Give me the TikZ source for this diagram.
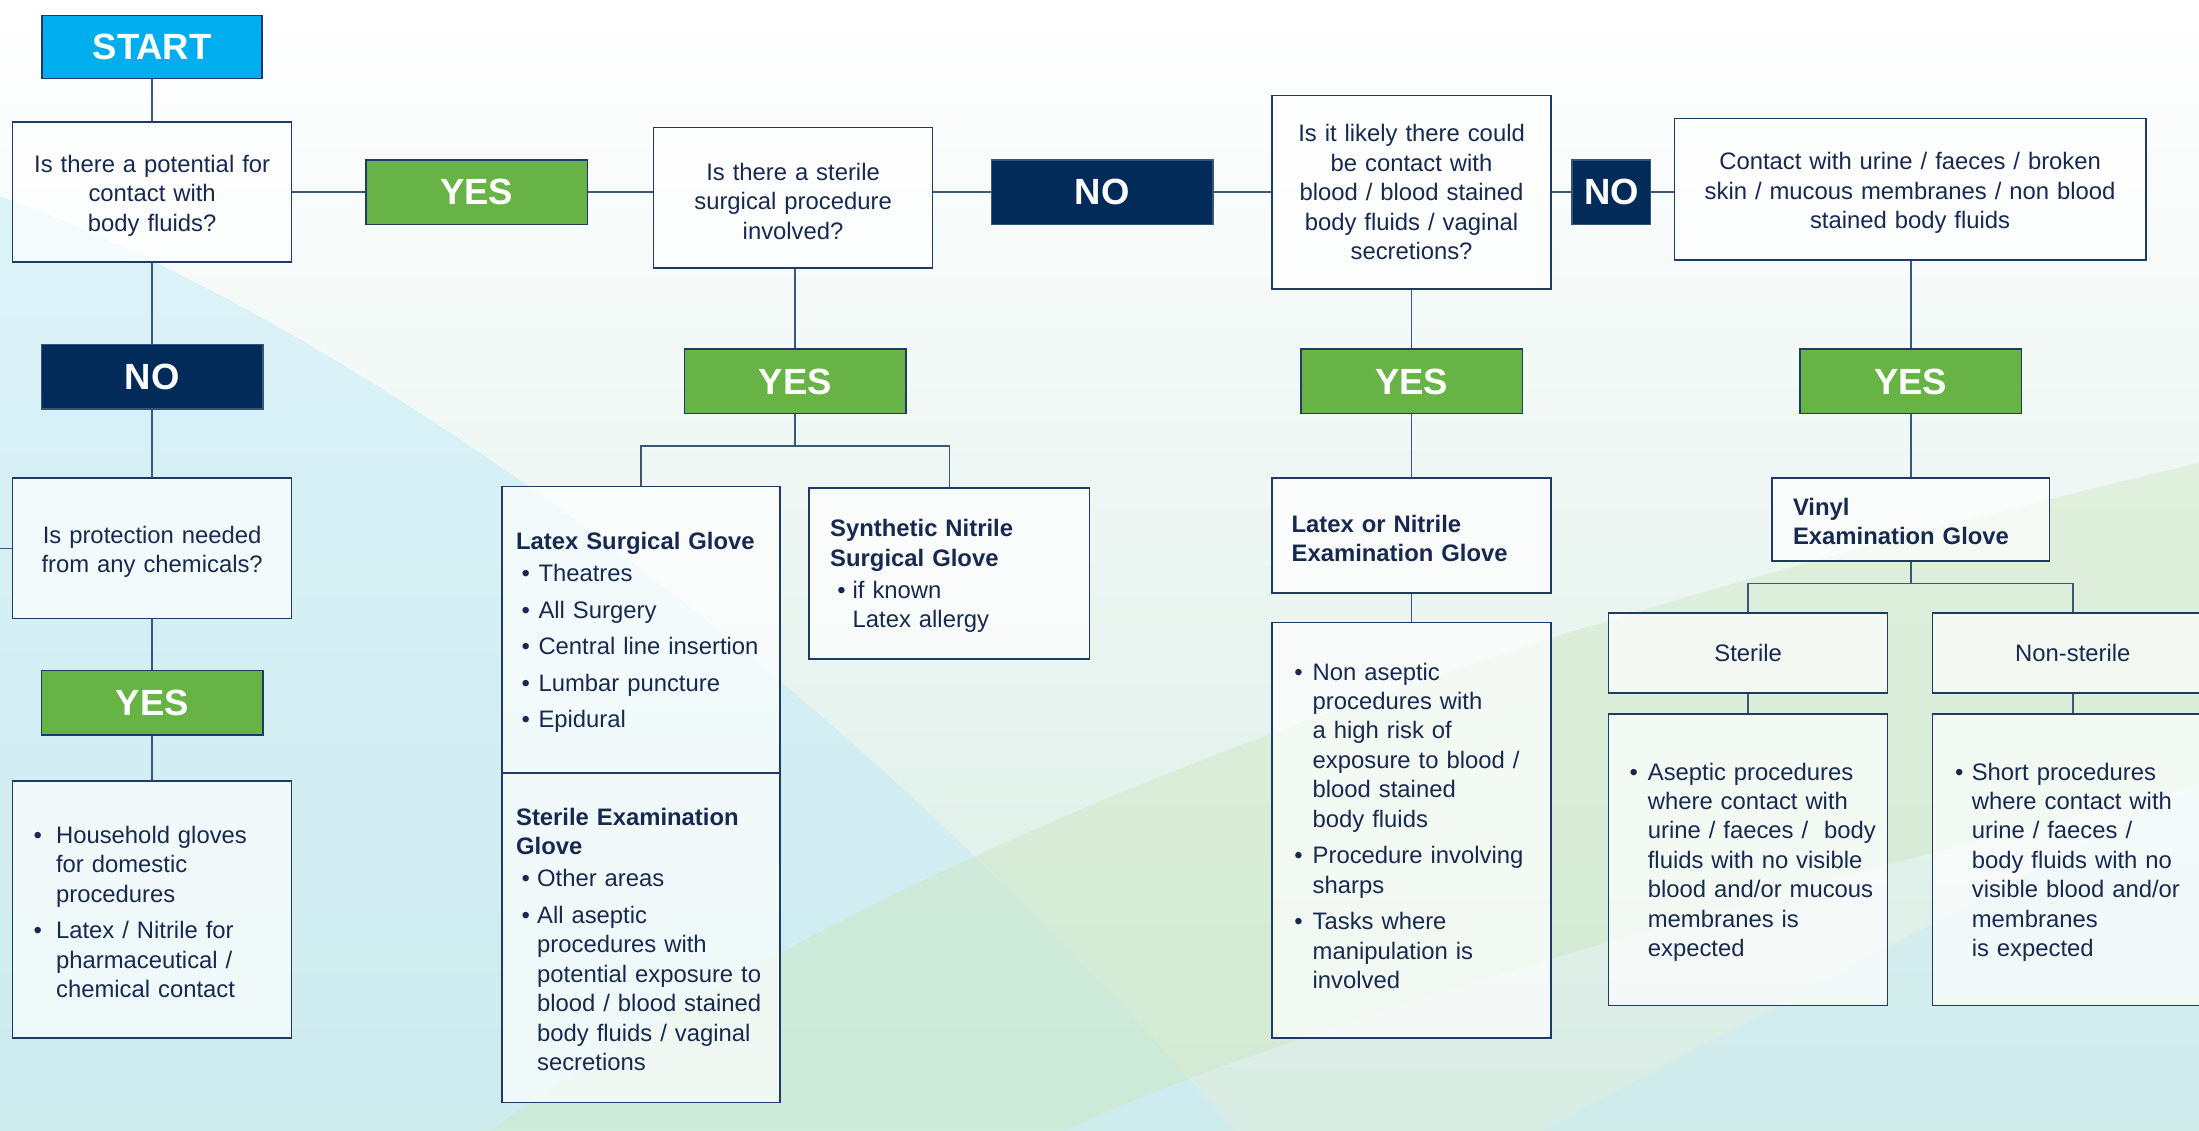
\documentclass[tikz,border=0pt]{standalone}
\usepackage{fontspec}
\setmainfont{Liberation Sans}
\definecolor{cyanstart}{HTML}{00AEEF}
\definecolor{yesgreen}{HTML}{67B346}
\definecolor{nonavy}{HTML}{032B5A}
\definecolor{boxline}{HTML}{1F3A66}
\definecolor{connc}{HTML}{3B5779}
\definecolor{txt}{HTML}{17294F}
\definecolor{bgbot}{HTML}{D8ECE4}
\definecolor{bgblue}{HTML}{C5ECF8}
\definecolor{bggreen}{HTML}{CDE8C0}
\newlength\bpre
\newlength\bind
\newcommand\fs{\fontsize{17}{21}\selectfont}
\newcommand\bigf{\fontsize{26}{30}\selectfont\bfseries}
\newcommand\bl[1]{\par\noindent\makebox[\bind][l]{\hspace*{\bpre}\textbullet}#1\par}
\newcommand\cl[1]{\par\noindent\hspace*{\bind}#1\par}
\newcommand\hd[1]{\par\noindent\textbf{#1}\par}
\newcommand\gap{\vspace{5pt}}
\newcommand\tstrut{\rule{0pt}{17.5pt}}
\tikzset{
  conn/.style={draw=connc, line width=1.1pt},
  qbox/.style={draw=boxline, line width=1.1pt, fill=white, fill opacity=0.7, text opacity=1, text=txt, font=\fs, align=center, inner sep=0pt},
  lbox/.style={qbox, align=left, inner xsep=2pt, inner ysep=0pt},
  yesbox/.style={draw=boxline, line width=1.1pt, fill=yesgreen, text=white, font=\bigf, minimum width=158pt, minimum height=46pt, inner sep=0pt},
  nobox/.style={yesbox, fill=nonavy, draw=nonavy!80!white},
  startbox/.style={yesbox, fill=cyanstart, minimum width=157pt, minimum height=45pt},
}
\begin{document}
\begin{tikzpicture}[x=1pt,y=-1pt]
\useasboundingbox (0,0) rectangle (1568,806);
\clip (0,0) rectangle (1568,806);
% background
\shade[top color=white, bottom color=bgbot] (0,0) rectangle (1568,806);
\fill[bgblue, opacity=0.55] (0,140) .. controls (250,230) and (600,480) .. (880,806) -- (0,806) -- cycle;
\fill[bggreen, opacity=0.45] (350,806) .. controls (700,560) and (1150,430) .. (1568,330) -- (1568,560) .. controls (1200,650) and (900,740) .. (760,806) -- cycle;
\fill[bgblue, opacity=0.4] (1100,806) .. controls (1300,700) and (1450,620) .. (1568,560) -- (1568,806) -- cycle;

% top row
\node[startbox] (start) at (108.5,33.5) {START};
\node[qbox, minimum width=199pt, minimum height=100pt, text width=195pt] (q1) at (108.5,137) {\tstrut Is there a potential for\\contact with\\body fluids?};
\node[yesbox] (yes1) at (340,137) {YES};
\node[qbox, minimum width=199pt, minimum height=100pt, text width=195pt] (q2) at (565.5,141) {\tstrut Is there a sterile\\surgical procedure\\involved?};
\node[nobox] (no1) at (786,137) {NO};
\node[qbox, minimum width=199pt, minimum height=138pt, text width=195pt] (q3) at (1006.5,137) {Is it likely there could\\be contact with\\blood / blood stained\\body fluids / vaginal\\secretions?};
\node[nobox, minimum width=56pt] (no2) at (1149,137) {NO};
\node[qbox, minimum width=336pt, minimum height=101pt, text width=332pt] (q4) at (1362,135) {\tstrut Contact with urine / faeces / broken\\skin / mucous membranes / non blood\\stained body fluids};

% left column
\node[nobox] (no3) at (108.5,268.5) {NO};
\node[qbox, minimum width=199pt, minimum height=100pt, text width=195pt] (q5) at (108.5,391) {\tstrut Is protection needed\\from any chemicals?};
\node[yesbox] (yes2) at (108.5,501) {YES};
\node[lbox, text width=195pt, minimum height=183pt] (a1) at (108.5,648.5) {\leftskip=13pt\setlength\bpre{0pt}\setlength\bind{16pt}%
\bl{Household gloves}\cl{for domestic}\cl{procedures}\gap\bl{Latex / Nitrile for}\cl{pharmaceutical /}\cl{chemical contact}\vspace{5pt}};
\coordinate (lstub) at (0,391);

% sterile surgical branch
\node[yesbox] (yes3) at (567,272) {YES};
\coordinate (br1) at (567,318);
\node[lbox, text width=194pt, minimum height=204pt] (lsgA) at (457,449) {\leftskip=8pt\setlength\bpre{4pt}\setlength\bind{16pt}%
\hd{Latex Surgical Glove}\vspace{2pt}\bl{Theatres}\gap\bl{All Surgery}\gap\bl{Central line insertion}\gap\bl{Lumbar puncture}\gap\bl{Epidural}\vspace{5pt}};
\node[lbox, text width=194pt, minimum height=235pt] (lsgB) at (457,668.5) {\leftskip=8pt\setlength\bpre{4pt}\setlength\bind{15pt}%
\hd{Sterile Examination}\hd{Glove}\vspace{2pt}\bl{Other areas}\gap\bl{All aseptic}\cl{procedures with}\cl{potential exposure to}\cl{blood / blood stained}\cl{body fluids / vaginal}\cl{secretions}\vspace{6pt}};
\node[lbox, text width=196pt, minimum height=122pt] (sns) at (677,409) {\leftskip=13pt\setlength\bpre{5pt}\setlength\bind{16pt}%
\hd{Synthetic Nitrile}\hd{Surgical Glove}\vspace{2pt}\bl{if known}\cl{Latex allergy}\vspace{5pt}};

% blood branch
\node[yesbox] (yes4) at (1006.5,272) {YES};
\node[lbox, text width=195pt, minimum height=82pt] (lne) at (1006.5,382) {\leftskip=12pt%
\hd{Latex or Nitrile}\hd{Examination Glove}\vspace{5pt}};
\node[lbox, text width=195pt, minimum height=296pt] (lnel) at (1006.5,592) {\leftskip=14pt\setlength\bpre{0pt}\setlength\bind{13pt}%
\bl{Non aseptic}\cl{procedures with}\cl{a high risk of}\cl{exposure to blood /}\cl{blood stained}\cl{body fluids}\gap\bl{Procedure involving}\cl{sharps}\gap\bl{Tasks where}\cl{manipulation is}\cl{involved}\vspace{15pt}};

% urine branch
\node[yesbox] (yes5) at (1362.5,272) {YES};
\node[lbox, text width=194pt, minimum height=59pt] (vinyl) at (1362.5,370.5) {\leftskip=13pt%
\hd{Vinyl}\hd{Examination Glove}\vspace{6pt}};
\coordinate (br2) at (1362.5,416);
\node[qbox, minimum width=199pt, minimum height=57pt, text width=195pt] (steril) at (1246.5,465.5) {Sterile};
\node[qbox, minimum width=200pt, minimum height=57pt, text width=196pt] (nonst) at (1478,465.5) {Non-sterile};
\node[lbox, text width=195pt, minimum height=208pt] (sterl) at (1246.5,613) {\leftskip=13pt\setlength\bpre{0pt}\setlength\bind{13pt}%
\bl{Aseptic procedures}\cl{where contact with}\cl{urine / faeces /\ \ body}\cl{fluids with no visible}\cl{blood and/or mucous}\cl{membranes is}\cl{expected}\vspace{5pt}};
\node[lbox, text width=196pt, minimum height=208pt] (nonl) at (1478,613) {\leftskip=14pt\setlength\bpre{0pt}\setlength\bind{12pt}%
\bl{Short procedures}\cl{where contact with}\cl{urine / faeces /}\cl{body fluids with no}\cl{visible blood and/or}\cl{membranes}\cl{is expected}\vspace{5pt}};

% connectors
\draw[conn] (start) -- (q1);
\draw[conn] (q1) -- (no3);
\draw[conn] (no3) -- (q5);
\draw[conn] (q5) -- (yes2);
\draw[conn] (yes2) -- (a1);
\draw[conn] (lstub) -- (q5.west);
\draw[conn] (q1.east) -- (yes1.west);
\draw[conn] (yes1.east) -- (yes1.east -| q2.west);
\draw[conn] (no1.west) -- (no1.west -| q2.east);
\draw[conn] (no1.east) -- (no1.east -| q3.west);
\draw[conn] (no2.west) -- (no2.west -| q3.east);
\draw[conn] (no2.east) -- (no2.east -| q4.west);
\draw[conn] (yes3.north) -- (yes3.north |- q2.south);
\draw[conn] (yes4.north) -- (yes4.north |- q3.south);
\draw[conn] (yes5.north) -- (yes5.north |- q4.south);
\draw[conn] (yes3.south) -- (br1);
\draw[conn] (lsgA.north) |- (br1) -| (sns.north);
\draw[conn] (yes4.south) -- (lne.north);
\draw[conn] (lne.south) -- (lnel.north);
\draw[conn] (yes5.south) -- (vinyl.north);
\draw[conn] (vinyl.south) -- (br2);
\draw[conn] (steril.north) |- (br2) -| (nonst.north);
\draw[conn] (steril) -- (sterl);
\draw[conn] (nonst) -- (nonl);
\end{tikzpicture}
\end{document}
